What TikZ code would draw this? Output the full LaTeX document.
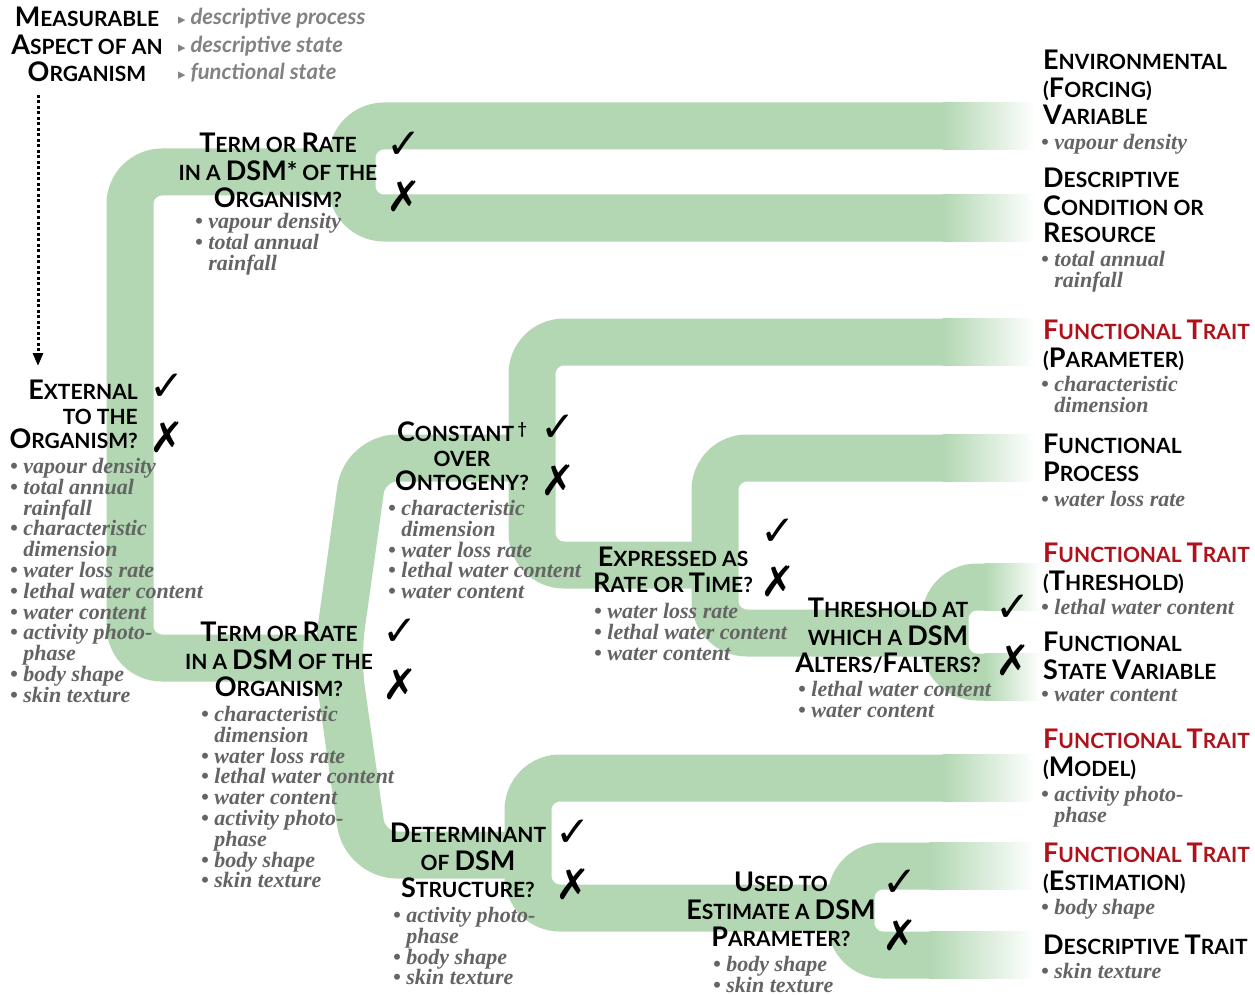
\documentclass[tikz,border=0pt]{standalone}
\usepackage{fontspec}
\setmainfont{Lato}
\newfontfamily\bulfont{Liberation Serif}
\newfontfamily\symfont{DejaVu Sans}
\usetikzlibrary{arrows.meta}
\definecolor{rib}{RGB}{178,215,178}
\definecolor{ftred}{RGB}{176,18,28}
\definecolor{bulgray}{RGB}{100,100,100}
\definecolor{leggray}{RGB}{130,130,130}
\newcommand\Bg[1]{{\fontsize{27}{27}\selectfont #1}}
\newcommand\ind{\phantom{•\ }}
\newcommand\legtri{{\symfont\fontsize{15}{15}\selectfont ▸}}
\tikzset{
  ribbon/.style={draw=rib, line width=47pt, rounded corners=32pt},
  hd/.style={font=\bfseries\fontsize{21}{27.5}\selectfont, align=center, inner sep=0pt, text=black},
  hdtight/.style={font=\bfseries\fontsize{21}{24.5}\selectfont, align=center, inner sep=0pt, text=black},
  hdl/.style={hd, align=left, anchor=north west},
  bul/.style={font=\bulfont\bfseries\itshape\fontsize{22}{20.8}\selectfont, text=bulgray, align=left, inner sep=0pt, anchor=north west},
  leg/.style={font=\bfseries\itshape\fontsize{22}{27.5}\selectfont, text=leggray, align=left, inner sep=0pt},
  tick/.style={font=\symfont\fontsize{42}{42}\selectfont, inner sep=0pt},
  fade/.style={left color=rib, right color=white, draw=none}
}
\begin{document}
\begin{tikzpicture}[x=1pt,y=-1pt]
\useasboundingbox (0,0) rectangle (1255,995);
% ---------- ribbon end points ----------
\coordinate (eEnv) at (943,126);
\coordinate (eDes) at (943,218);
\coordinate (ePar) at (943,342);
\coordinate (ePro) at (943,458);
\coordinate (eThr) at (985,587);
\coordinate (eSta) at (985,677);
\coordinate (eMod) at (943,778);
\coordinate (eEst) at (930,866);
\coordinate (eDtr) at (930,955);
% ---------- ribbons ----------
\draw[ribbon] (340,172) -- (130,172) -- (130,658) -- (340,658);
\draw[ribbon] (eEnv) -- (352,126) -- (352,218) -- (eDes);
\draw[ribbon] (532,458) -- (365,458) -- (337,658) -- (365,855) -- (528,855);
\draw[ribbon] (ePar) -- (532,342) -- (532,565) -- (715,565);
\draw[ribbon] (ePro) -- (715,458) -- (715,633) -- (945,633);
\draw[ribbon] (eThr) -- (945,587) -- (945,677) -- (eSta);
\draw[ribbon] (eMod) -- (528,778) -- (528,908) -- (851,908);
\draw[ribbon] (eEst) -- (851,866) -- (851,955) -- (eDtr);
% fades towards the right
\foreach \x/\y/\e in {943/126/1035,943/218/1035,943/342/1035,943/458/1035,985/587/1040,985/677/1040,943/778/1035,930/866/1035,930/955/1035}{
  \shade[fade] (\x-0.5,\y-23.5) rectangle (\e,\y+23.5);
}
% ---------- title and legend ----------
\node[hd, anchor=north] (title) at (87,7) {\Bg{M}EASURABLE\\\Bg{A}SPECT OF AN\\\Bg{O}RGANISM};
\node[leg, anchor=north west] (legend) at (178,8) {\legtri\ descriptive process\\\legtri\ descriptive state\\\legtri\ functional state};
\coordinate (dotA) at (38,95);
\coordinate (dotB) at (38,366);
\draw[line width=3pt, dash pattern=on 3pt off 2.5pt, -{Triangle[length=13pt,width=10pt]}] (dotA) -- (dotB);
% ---------- External ----------
\node[hdtight, align=right, anchor=north east] (ext) at (138,380) {\Bg{E}XTERNAL\\TO THE\\\Bg{O}RGANISM?};
\node[tick] (extY) at (167,387) {✓};
\node[tick] (extN) at (167,437) {✗};
\node[bul] (extL) at (10,458) {• vapour density\\• total annual\\\ind rainfall\\• characteristic\\\ind dimension\\• water loss rate\\• lethal water content\\• water content\\• activity photo-\\\ind phase\\• body shape\\• skin texture};
% ---------- Term or rate (top) ----------
\node[hd, anchor=north] (tr1) at (278,133) {\Bg{T}ERM OR \Bg{R}ATE\\IN A \Bg{DSM}{\fontsize{25}{25}\selectfont*} OF THE\\\Bg{O}RGANISM?};
\node[tick] (tr1Y) at (404,145) {✓};
\node[tick] (tr1N) at (404,196) {✗};
\node[bul] (tr1L) at (195,213) {• vapour density\\• total annual\\\ind rainfall};
% ---------- Term or rate (lower) ----------
\node[hd, anchor=north] (tr2) at (279,622) {\Bg{T}ERM OR \Bg{R}ATE\\IN A \Bg{DSM} OF THE\\\Bg{O}RGANISM?};
\node[tick] (tr2Y) at (400,632) {✓};
\node[tick] (tr2N) at (400,684) {✗};
\node[bul] (tr2L) at (201,706) {• characteristic\\\ind dimension\\• water loss rate\\• lethal water content\\• water content\\• activity photo-\\\ind phase\\• body shape\\• skin texture};
% ---------- Constant ----------
\node[hdtight, anchor=north] (con) at (462,422) {\Bg{C}ONSTANT\,{\fontsize{16}{16}\selectfont\raisebox{7pt}{†}}\\OVER\\\Bg{O}NTOGENY?};
\node[tick] (conY) at (558,428) {✓};
\node[tick] (conN) at (558,480) {✗};
\node[bul] (conL) at (388,500) {• characteristic\\\ind dimension\\• water loss rate\\• lethal water content\\• water content};
% ---------- Expressed ----------
\node[hd, anchor=north, font=\bfseries\fontsize{21}{26}\selectfont] (exp) at (673,547) {\Bg{E}XPRESSED AS\\\Bg{R}ATE OR \Bg{T}IME?};
\node[tick] (expY) at (778,532) {✓};
\node[tick] (expN) at (778,581) {✗};
\node[bul] (expL) at (594,603) {• water loss rate\\• lethal water content\\• water content};
% ---------- Threshold ----------
\node[hd, anchor=north] (thr) at (888,598) {\Bg{T}HRESHOLD AT\\WHICH A \Bg{DSM}\\\Bg{A}LTERS/\Bg{F}ALTERS?};
\node[tick] (thrY) at (1013,608) {✓};
\node[tick] (thrN) at (1013,660) {✗};
\node[bul] (thrL) at (798,681) {• lethal water content\\• water content};
% ---------- Determinant ----------
\node[hd, anchor=north] (det) at (468,823) {\Bg{D}ETERMINANT\\OF \Bg{DSM}\\\Bg{S}TRUCTURE?};
\node[tick] (detY) at (573,833) {✓};
\node[tick] (detN) at (573,884) {✗};
\node[bul] (detL) at (393,907) {• activity photo-\\\ind phase\\• body shape\\• skin texture};
% ---------- Used to ----------
\node[hd, anchor=north] (use) at (781,872) {\Bg{U}SED TO\\\Bg{E}STIMATE A \Bg{DSM}\\\Bg{P}ARAMETER?};
\node[tick] (useY) at (900,883) {✓};
\node[tick] (useN) at (900,935) {✗};
\node[bul] (useL) at (713,956) {• body shape\\• skin texture};
% ---------- right column ----------
\node[hdl] (rEnv) at (1043,50) {\Bg{E}NVIRONMENTAL\\(\Bg{F}ORCING)\\\Bg{V}ARIABLE};
\node[bul] (rEnvL) at (1041,134) {• vapour density};
\node[hdl] (rDes) at (1043,168) {\Bg{D}ESCRIPTIVE\\\Bg{C}ONDITION OR\\\Bg{R}ESOURCE};
\node[bul] (rDesL) at (1041,251) {• total annual\\\ind rainfall};
\node[hdl] (rPar) at (1043,320) {\textcolor{ftred}{\Bg{F}UNCTIONAL \Bg{T}RAIT}\\(\Bg{P}ARAMETER)};
\node[bul] (rParL) at (1041,376) {• characteristic\\\ind dimension};
\node[hdl] (rPro) at (1043,434) {\Bg{F}UNCTIONAL\\\Bg{P}ROCESS};
\node[bul] (rProL) at (1041,491) {• water loss rate};
\node[hdl] (rThr) at (1043,543) {\textcolor{ftred}{\Bg{F}UNCTIONAL \Bg{T}RAIT}\\(\Bg{T}HRESHOLD)};
\node[bul] (rThrL) at (1041,599) {• lethal water content};
\node[hdl] (rSta) at (1043,632) {\Bg{F}UNCTIONAL\\\Bg{S}TATE \Bg{V}ARIABLE};
\node[bul] (rStaL) at (1041,689) {• water content};
\node[hdl] (rMod) at (1043,729) {\textcolor{ftred}{\Bg{F}UNCTIONAL \Bg{T}RAIT}\\(\Bg{M}ODEL)};
\node[bul] (rModL) at (1041,786) {• activity photo-\\\ind phase};
\node[hdl] (rEst) at (1043,843) {\textcolor{ftred}{\Bg{F}UNCTIONAL \Bg{T}RAIT}\\(\Bg{E}STIMATION)};
\node[bul] (rEstL) at (1041,899) {• body shape};
\node[hdl] (rDtr) at (1043,935) {\Bg{D}ESCRIPTIVE \Bg{T}RAIT};
\node[bul] (rDtrL) at (1041,963) {• skin texture};
\end{tikzpicture}
\end{document}
